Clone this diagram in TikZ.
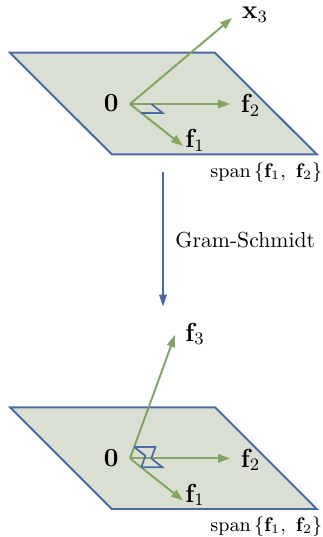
\documentclass[tikz,border=0pt]{standalone}
\usepackage{amsmath}
\usetikzlibrary{arrows.meta,calc}
\definecolor{vgreen}{RGB}{130,165,100}
\definecolor{pblue}{RGB}{74,106,166}
\definecolor{pfill}{RGB}{217,223,211}
\begin{document}
\begin{tikzpicture}[x=0.46pt,y=-0.46pt,
  plane/.style={draw=pblue,fill=pfill,line width=0.9pt,line join=miter},
  vec/.style={vgreen,line width=0.9pt,-{Triangle[length=5.5pt,width=3.8pt]}},
  gsarrow/.style={pblue,line width=0.9pt,-{Triangle[length=5.5pt,width=3.4pt]}},
  ramark/.style={pblue,line width=0.8pt,line join=miter},
  lbl/.style={font=\fontsize{11.6}{14}\selectfont,inner sep=0pt,anchor=base west},
  spanlbl/.style={font=\small,inner sep=0pt,anchor=base west},
  txt/.style={font=\normalsize,inner sep=0pt,anchor=base west}]
\useasboundingbox (0,0) rectangle (322,537);
% ---------- top plane ----------
\coordinate (tl1) at (10,52.7);
\coordinate (tr1) at (215,52.7);
\coordinate (br1) at (316.7,154.3);
\coordinate (bl1) at (111.7,154.3);
\draw[plane] (tl1)--(tr1)--(br1)--(bl1)--cycle;
\coordinate (o1) at (130,104);
\coordinate (x3) at (232,18);
\coordinate (tf2) at (230,104);
\coordinate (tf1) at (183,146);
\draw[vec] (o1)--(x3);
\draw[vec] (o1)--(tf2);
\draw[vec] (o1)--(tf1);
\coordinate (ta1) at ($(o1)!6.6pt!(tf1)$);
\coordinate (ta2) at ($(o1)!9.8pt!(tf2)$);
\draw[ramark] (ta1)--($(ta1)+(ta2)-(o1)$)--(ta2);
\node[lbl] (lx3) at (241.7,18.3) {$\mathbf{x}_3$};
\node[lbl] (lf2a) at (240.5,112.5) {$\mathbf{f}_2$};
\node[lbl] (lf1a) at (185,147.5) {$\mathbf{f}_1$};
\node[lbl] (l0a) at (103.5,111.5) {$\mathbf{0}$};
\node[spanlbl] (spa) at (210,177.5) {$\mathrm{span}\,\{\mathbf{f}_1,\ \mathbf{f}_2\}$};
% ---------- Gram-Schmidt arrow ----------
\coordinate (gs1) at (163,171.7);
\coordinate (gs2) at (163,306.7);
\draw[gsarrow] (gs1)--(gs2);
\node[txt] (gs) at (175,247) {Gram-Schmidt};
% ---------- bottom plane ----------
\coordinate (tl2) at (10,407.3);
\coordinate (tr2) at (215,407.3);
\coordinate (br2) at (316.7,509);
\coordinate (bl2) at (111.7,509);
\draw[plane] (tl2)--(tr2)--(br2)--(bl2)--cycle;
\coordinate (o2) at (130,458.4);
\coordinate (bf3) at (175,335);
\coordinate (bf2) at (230,458.4);
\coordinate (bf1) at (183,500.5);
\draw[vec] (o2)--(bf3);
\draw[vec] (o2)--(bf2);
\draw[vec] (o2)--(bf1);
\coordinate (ba1) at ($(o2)!6.6pt!(bf1)$);
\coordinate (ba2) at ($(o2)!9.8pt!(bf2)$);
\coordinate (ba3) at ($(o2)!5.6pt!(bf3)$);
\draw[ramark] (ba1)--($(ba1)+(ba2)-(o2)$)--(ba2);
\draw[ramark] (ba3)--($(ba3)+(ba2)-(o2)$)--(ba2);
\draw[ramark] (ba3)--($(ba3)+(ba1)-(o2)$)--(ba1);
\node[lbl] (lf3) at (185,341) {$\mathbf{f}_3$};
\node[lbl] (lf2b) at (240.5,467) {$\mathbf{f}_2$};
\node[lbl] (lf1b) at (185,502) {$\mathbf{f}_1$};
\node[lbl] (l0b) at (103.5,466) {$\mathbf{0}$};
\node[spanlbl] (spb) at (210,531.5) {$\mathrm{span}\,\{\mathbf{f}_1,\ \mathbf{f}_2\}$};
\end{tikzpicture}
\end{document}
